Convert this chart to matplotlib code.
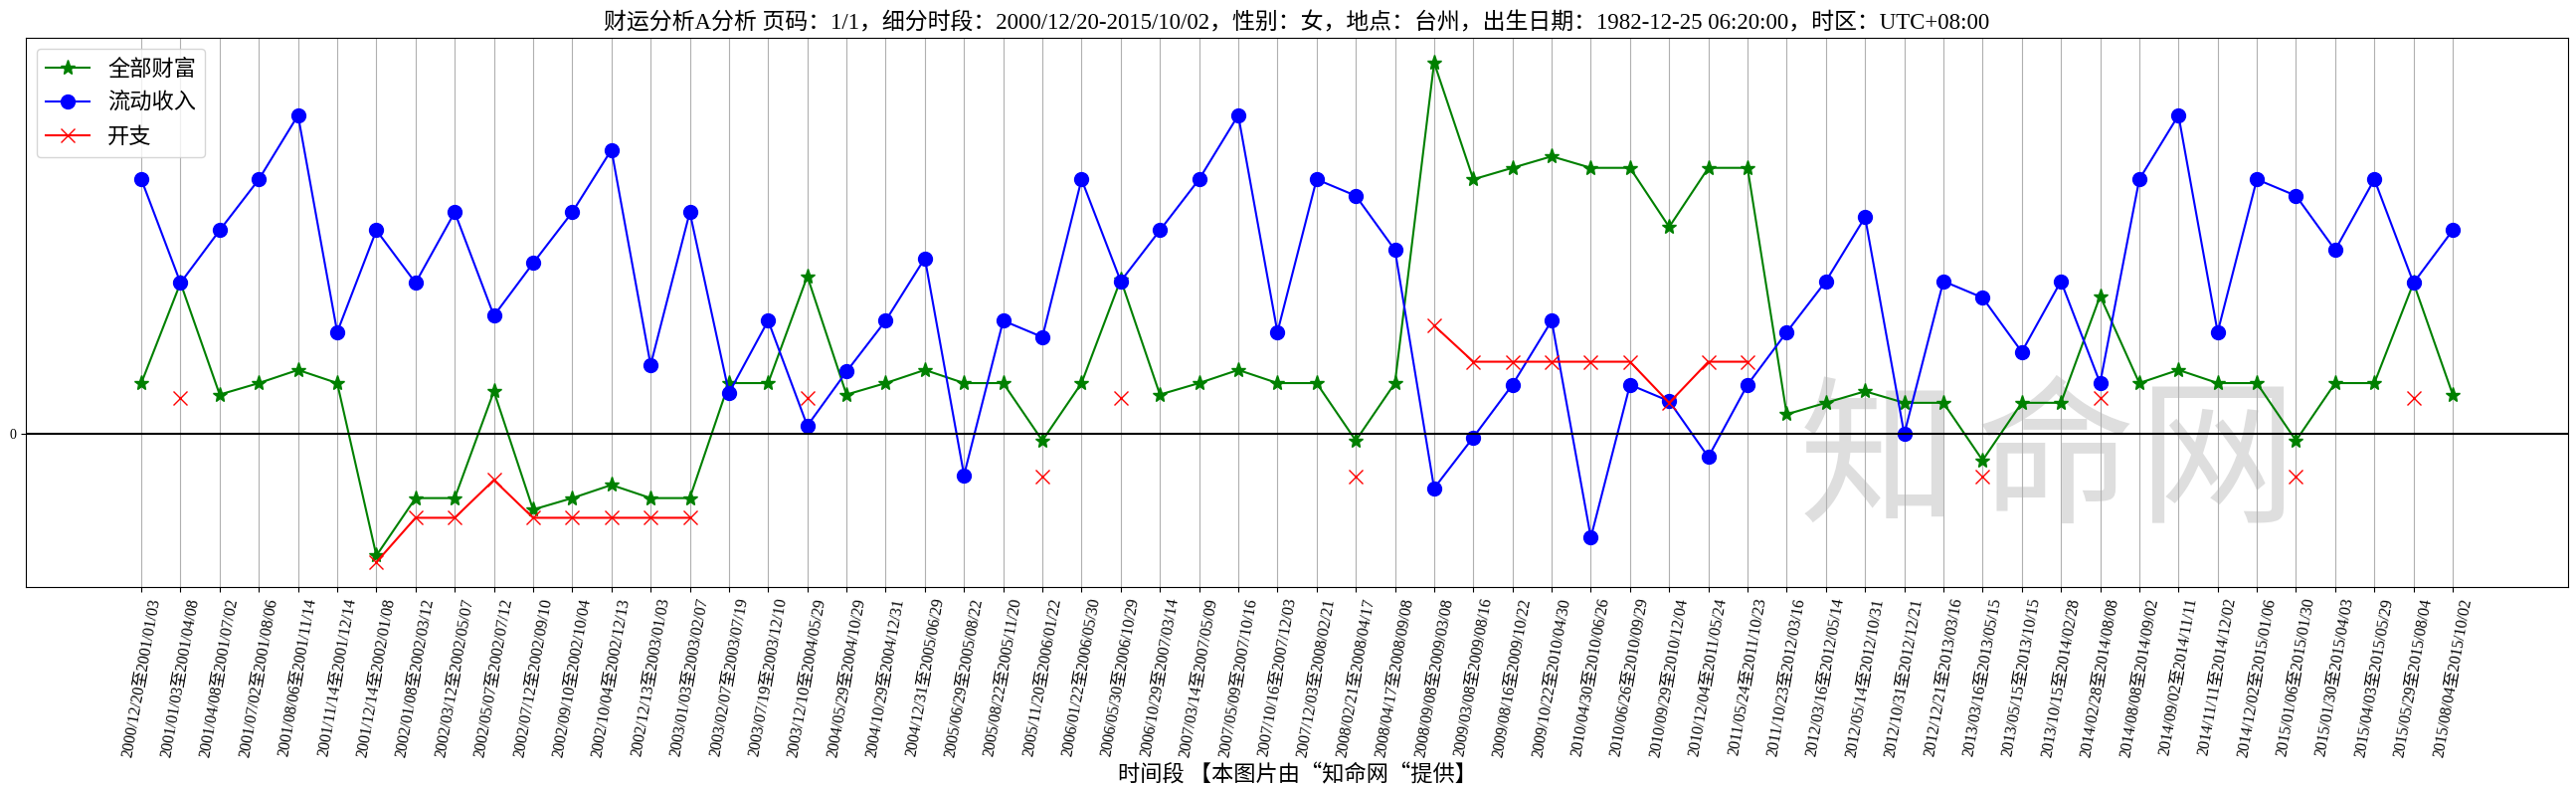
import matplotlib
matplotlib.use('Agg')
import matplotlib.pyplot as plt
import numpy as np

# period labels (x axis)
periods = [
    '2000/12/20至2001/01/03', '2001/01/03至2001/04/08', '2001/04/08至2001/07/02',
    '2001/07/02至2001/08/06', '2001/08/06至2001/11/14', '2001/11/14至2001/12/14',
    '2001/12/14至2002/01/08', '2002/01/08至2002/03/12', '2002/03/12至2002/05/07',
    '2002/05/07至2002/07/12', '2002/07/12至2002/09/10', '2002/09/10至2002/10/04',
    '2002/10/04至2002/12/13', '2002/12/13至2003/01/03', '2003/01/03至2003/02/07',
    '2003/02/07至2003/07/19', '2003/07/19至2003/12/10', '2003/12/10至2004/05/29',
    '2004/05/29至2004/10/29', '2004/10/29至2004/12/31', '2004/12/31至2005/06/29',
    '2005/06/29至2005/08/22', '2005/08/22至2005/11/20', '2005/11/20至2006/01/22',
    '2006/01/22至2006/05/30', '2006/05/30至2006/10/29', '2006/10/29至2007/03/14',
    '2007/03/14至2007/05/09', '2007/05/09至2007/10/16', '2007/10/16至2007/12/03',
    '2007/12/03至2008/02/21', '2008/02/21至2008/04/17', '2008/04/17至2008/09/08',
    '2008/09/08至2009/03/08', '2009/03/08至2009/08/16', '2009/08/16至2009/10/22',
    '2009/10/22至2010/04/30', '2010/04/30至2010/06/26', '2010/06/26至2010/09/29',
    '2010/09/29至2010/12/04', '2010/12/04至2011/05/24', '2011/05/24至2011/10/23',
    '2011/10/23至2012/03/16', '2012/03/16至2012/05/14', '2012/05/14至2012/10/31',
    '2012/10/31至2012/12/21', '2012/12/21至2013/03/16', '2013/03/16至2013/05/15',
    '2013/05/15至2013/10/15', '2013/10/15至2014/02/28', '2014/02/28至2014/08/08',
    '2014/08/08至2014/09/02', '2014/09/02至2014/11/11', '2014/11/11至2014/12/02',
    '2014/12/02至2015/01/06', '2015/01/06至2015/01/30', '2015/01/30至2015/04/03',
    '2015/04/03至2015/05/29', '2015/05/29至2015/08/04', '2015/08/04至2015/10/02',
]

# 全部财富
wealth = [31, 92, 24, 31, 39, 31, -74, -39, -39, 26,
          -46, -39, -31, -39, -39, 31, 31, 96, 24, 31,
          39, 31, 31, -4, 31, 94, 24, 31, 39, 31,
          31, -4, 31, 226, 155, 162, 169, 162, 162, 126,
          162, 162, 12, 19, 26, 19, 19, -16, 19, 19,
          84, 31, 39, 31, 31, -4, 31, 31, 92, 24]

# 流动收入
income = [155, 92, 124, 155, 194, 62, 124, 92, 135, 72,
          104, 135, 173, 42, 135, 25, 69, 5, 38, 69,
          107, -25, 69, 59, 155, 93, 124, 155, 194, 62,
          155, 145, 112, -33, -2, 30, 69, -63, 30, 20,
          -14, 30, 62, 93, 132, 0, 93, 83, 50, 93,
          31, 155, 194, 62, 155, 145, 112, 155, 92, 124]

# 开支 (nan = no value in that period)
nan = np.nan
expense = [nan, 22, nan, nan, nan, nan, -78, -51, -51, -28,
           -51, -51, -51, -51, -51, nan, nan, 22, nan, nan,
           nan, nan, nan, -26, nan, 22, nan, nan, nan, nan,
           nan, -26, nan, 66, 44, 44, 44, 44, 44, 19,
           44, 44, nan, nan, nan, nan, nan, -26, nan, nan,
           22, nan, nan, nan, nan, -26, nan, nan, 22, nan]

title = '财运分析A分析 页码：1/1，细分时段：2000/12/20-2015/10/02，性别：女，地点：台州，出生日期：1982-12-25 06:20:00，时区：UTC+08:00'
xlabel = '时间段 【本图片由“知命网“提供】'

serif_cjk = ['Liberation Serif', 'Noto Sans CJK SC']
sans_cjk = ['Noto Sans CJK SC', 'DejaVu Sans']
plt.rcParams['font.family'] = sans_cjk

fig = plt.figure(figsize=(25.9, 7.9), dpi=100)
ax = fig.add_axes([0.010, 0.253, 0.987, 0.699])

x = np.arange(len(periods))
ax.plot(x, wealth, color='green', marker='*', markersize=11, linewidth=1.5, label='全部财富')
ax.plot(x, income, color='blue', marker='o', markersize=10, linewidth=1.5, label='流动收入')
ax.plot(x, expense, color='red', marker='x', markersize=10, linewidth=1.5, label='开支')
ax.axhline(0, color='black', linewidth=1.5)

ax.set_xticks(x)
ax.set_xticklabels(periods, rotation=80, fontsize=11.5, family=serif_cjk)
ax.set_yticks([0])
ax.set_yticklabels(['0'], fontsize=10, family=serif_cjk)
ax.grid(axis='x')

ax.set_title(title, fontsize=16.5, family=serif_cjk)
ax.set_xlabel(xlabel, fontsize=16)
ax.legend(loc='upper left', fontsize=16)

# watermark
for ch, xf in zip('知命网', [0.729, 0.798, 0.861]):
    ax.text(xf, 0.408, ch, transform=fig.transFigure, fontsize=115,
            color='#dedede', ha='center', va='center', zorder=1)

fig.savefig('out.png', dpi=100)
